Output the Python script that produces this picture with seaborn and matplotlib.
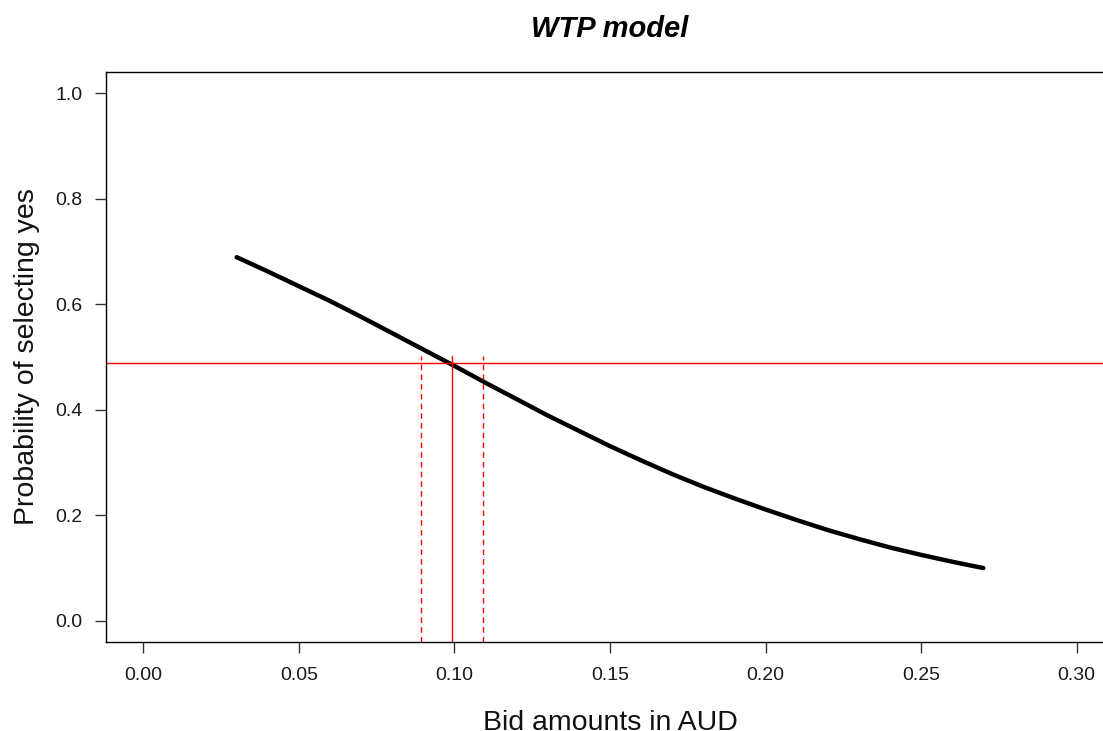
import matplotlib
matplotlib.use("Agg")
import matplotlib.pyplot as plt
import seaborn as sns
import pandas as pd

# curve: bid amount vs probability of yes
bid = [0.03, 0.04, 0.05, 0.06, 0.07, 0.08, 0.09, 0.10, 0.11, 0.12, 0.13, 0.14,
       0.15, 0.16, 0.17, 0.18, 0.19, 0.20, 0.21, 0.22, 0.23, 0.24, 0.25, 0.26, 0.27]
prob = [0.689, 0.662, 0.634, 0.606, 0.576, 0.545, 0.514, 0.483, 0.451, 0.420,
        0.389, 0.360, 0.331, 0.304, 0.278, 0.254, 0.232, 0.211, 0.191, 0.172,
        0.155, 0.139, 0.125, 0.112, 0.100]

# WTP estimate and its interval, and the probability line
wtp = 0.0993
wtp_ci = [0.0893, 0.1093]
p_line = 0.4886
seg_top = 0.502

xticks = [0.00, 0.05, 0.10, 0.15, 0.20, 0.25, 0.30]
yticks = [0.0, 0.2, 0.4, 0.6, 0.8, 1.0]

sns.set_style("ticks")
plt.rcParams['font.family'] = ['Liberation Sans', 'DejaVu Sans']

fig = plt.figure(figsize=(11.03, 7.31), dpi=100)
# plot box runs past the right edge, as in the reference crop
ax = fig.add_axes([0.0961, 0.1218, 0.9139, 0.7798])

df = pd.DataFrame({'bid': bid, 'prob': prob})
sns.lineplot(data=df, x='bid', y='prob', ax=ax, color='black', linewidth=3.2)

ax.axhline(p_line, color='red', linewidth=1.0)
ax.plot([wtp, wtp], [-0.04, seg_top], color='red', linewidth=1.0)
for c in wtp_ci:
    ax.plot([c, c], [-0.04, seg_top], color='red', linewidth=1.0,
            dashes=(4, 3))

ax.set_xlim(-0.012, 0.312)
ax.set_ylim(-0.04, 1.04)
ax.set_xticks(xticks)
ax.set_xticklabels([f"{v:.2f}" for v in xticks])
ax.set_yticks(yticks)
ax.set_yticklabels([f"{v:.1f}" for v in yticks])

for s in ax.spines.values():
    s.set_visible(True)
    s.set_color('black')
    s.set_linewidth(1.0)

ax.tick_params(axis='both', direction='out', length=8, width=1.0,
               color='#333333', labelsize=14, labelcolor='#1a1a1a')
ax.tick_params(axis='x', pad=10)
ax.tick_params(axis='y', pad=9)

ax.set_xlabel('Bid amounts in AUD', fontsize=20.5, color='#111111')
ax.set_ylabel('Probability of selecting yes', fontsize=20.5, color='#111111')
ax.xaxis.label.set_va('baseline')
ax.yaxis.label.set_va('baseline')
ax.xaxis.set_label_coords(0.5, -0.154)
ax.yaxis.set_label_coords(-0.0714, 0.5)

ax.set_title('WTP model', fontsize=21, fontweight='bold', fontstyle='italic',
             color='black', pad=25)

fig.savefig('out.png', dpi=100, facecolor='white')
